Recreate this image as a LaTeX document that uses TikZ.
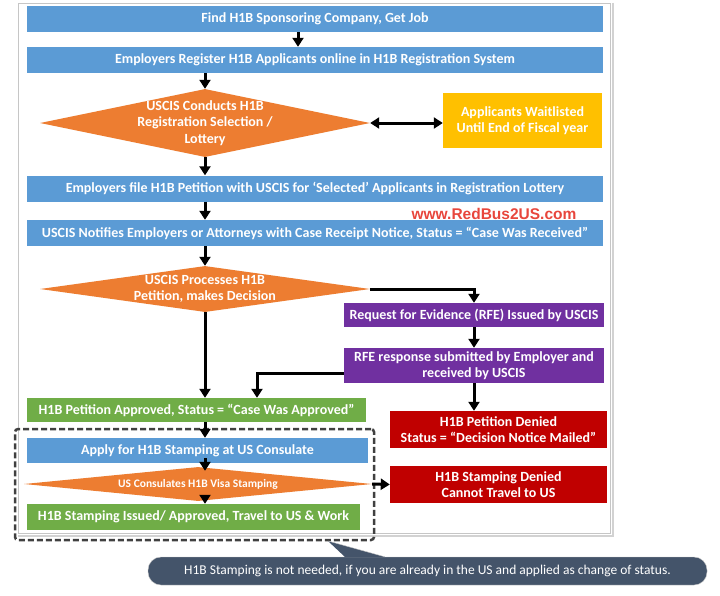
\documentclass[tikz,border=0pt]{standalone}
\usepackage{fontspec}
\setmainfont{Carlito}
\newfontfamily\wmfont{Liberation Sans}
\usetikzlibrary{shapes.geometric,arrows.meta}
\definecolor{hblue}{HTML}{5B9BD5}
\definecolor{horange}{HTML}{ED7D31}
\definecolor{hyellow}{HTML}{FFC000}
\definecolor{hpurple}{HTML}{7030A0}
\definecolor{hgreen}{HTML}{70AD47}
\definecolor{hred}{HTML}{C00000}
\definecolor{hslate}{HTML}{44546A}
\definecolor{hmark}{HTML}{E8463C}
\newcommand{\boxfont}{\fontsize{14}{16.5}\selectfont\bfseries}
\newcommand{\smallbox}{\fontsize{11.5}{13}\selectfont\bfseries}
\tikzset{
  card/.style={rectangle, fill=#1, text=white, font=\boxfont, align=center, inner sep=0pt},
  wide/.style={minimum width=576pt, minimum height=26pt},
  choice/.style={diamond, fill=horange, inner sep=0pt},
  say/.style={text=white, font=\boxfont, align=center, inner sep=0pt},
  flow/.style={line width=3pt, -{Triangle[length=9pt,width=11pt]}},
}

\begin{document}
\begin{tikzpicture}[x=1pt,y=-1pt]
\useasboundingbox (0,0) rectangle (720,595);
\node[rectangle, fill=white, draw=gray!45, line width=1pt, minimum width=592pt, minimum height=530pt] (P) at (314,268) {};
\draw[gray!35, line width=2pt] ([xshift=2pt]P.north east) -- ([shift={(2pt,-2pt)}]P.south east) -- ([yshift=-2pt]P.south west);
\node[draw=black!75, line width=2.5pt, dash pattern=on 6pt off 3pt, rounded corners=3pt, minimum width=359pt, minimum height=111pt] (K) at (194.5,484.5) {};

\node[card=hblue, wide] (N1) at (315,19) {Find H1B Sponsoring Company, Get Job};
\node[card=hblue, wide] (N2) at (315,60) {Employers Register H1B Applicants online in H1B Registration System};
\node[choice, minimum width=330pt, minimum height=68pt, label={[say]center:{USCIS Conducts H1B\\Registration Selection /\\Lottery}}] (D1) at (205,123) {};
\node[card=hyellow, minimum width=159pt, minimum height=55pt] (Y1) at (522.5,120.5) {Applicants Waitlisted\\Until End of Fiscal year};
\node[card=hblue, wide] (N3) at (315,188.5) {Employers file H1B Petition with USCIS for ‘Selected’ Applicants in Registration Lottery};
\node[card=hblue, wide] (N4) at (315,233) {USCIS Notifies Employers or Attorneys with Case Receipt Notice, Status = “Case Was Received”};
\node[text=hmark, font=\wmfont\bfseries\fontsize{15.5}{18}\selectfont, inner sep=0pt] (W1) at (494,214) {www.RedBus2US.com};
\node[choice, minimum width=330pt, minimum height=46pt, label={[say]center:{USCIS Processes H1B\\Petition, makes Decision}}] (D2) at (205,289) {};
\node[card=hpurple, minimum width=260pt, minimum height=24pt] (R1) at (474,315) {Request for Evidence (RFE) Issued by USCIS};
\node[card=hpurple, minimum width=260pt, minimum height=35pt] (R2) at (474,365.5) {RFE response submitted by Employer and\\received by USCIS};
\node[card=hgreen, minimum width=339pt, minimum height=24pt] (G1) at (196.5,410) {H1B Petition Approved, Status = “Case Was Approved”};
\node[card=hred, minimum width=217pt, minimum height=37pt] (X1) at (498.5,429.5) {H1B Petition Denied\\Status = “Decision Notice Mailed”};
\node[card=hblue, minimum width=341pt, minimum height=25pt] (A1) at (197.5,450.5) {Apply for H1B Stamping at US Consulate};
\node[choice, minimum width=348pt, minimum height=34pt, label={[say, font=\smallbox]center:{US Consulates H1B Visa Stamping}}] (D3) at (198,484) {};
\node[card=hred, minimum width=217pt, minimum height=37pt] (X2) at (498.5,484.5) {H1B Stamping Denied\\Cannot Travel to US};
\node[card=hgreen, minimum width=333pt, minimum height=26pt] (G2) at (193.5,517) {H1B Stamping Issued/ Approved, Travel to US \& Work};

\node[rounded corners=13pt, fill=hslate, draw=gray!45, text=white, font=\fontsize{13.5}{16}\selectfont, minimum width=559pt, minimum height=28pt] (C1) at (427.5,571) {H1B Stamping is not needed, if you are already in the US and applied as change of status.};
\coordinate (T1) at (328,541);
\fill[hslate] ([xshift=197pt]C1.north west) -- (T1) -- ([xshift=237pt]C1.north west) -- cycle;
\draw[gray!45] (T1) -- ([xshift=237pt]C1.north west);

\draw[flow] ([xshift=-17pt]N1.south) -- ([xshift=-17pt]N2.north);
\draw[flow] (N2.south -| D1.north) -- (D1.north);
\draw[flow, {Triangle[length=9pt,width=11pt]}-{Triangle[length=9pt,width=11pt]}] (D1.east) -- (D1.east -| Y1.west);
\draw[flow] (D1.south) -- (D1.south |- N3.north);
\draw[flow] (N3.south -| D1.south) -- (N4.north -| D1.south);
\draw[flow] (N4.south -| D2.north) -- (D2.north);
\draw[flow] (D2.east) -| (R1.north);
\draw[flow] (D2.south) -- (D2.south |- G1.north);
\draw[flow] (R1.south) -- (R2.north);
\draw[flow] ([yshift=-7.5pt]R2.west) -| ([xshift=60.5pt]G1.north);
\draw[flow] (R2.south) -- (R2.south |- X1.north);
\draw[flow] (G1.south -| D2.south) -- (A1.north -| D2.south);
\draw[flow] ([yshift=5pt]A1.south -| D2.south) -- ([yshift=-4pt]D3.north -| D2.south);
\draw[flow] ([yshift=6pt]D3.south -| D2.south) -- (G2.north -| D2.south);
\draw[flow] (D3.east) -- (X2.west);
\end{tikzpicture}
\end{document}
